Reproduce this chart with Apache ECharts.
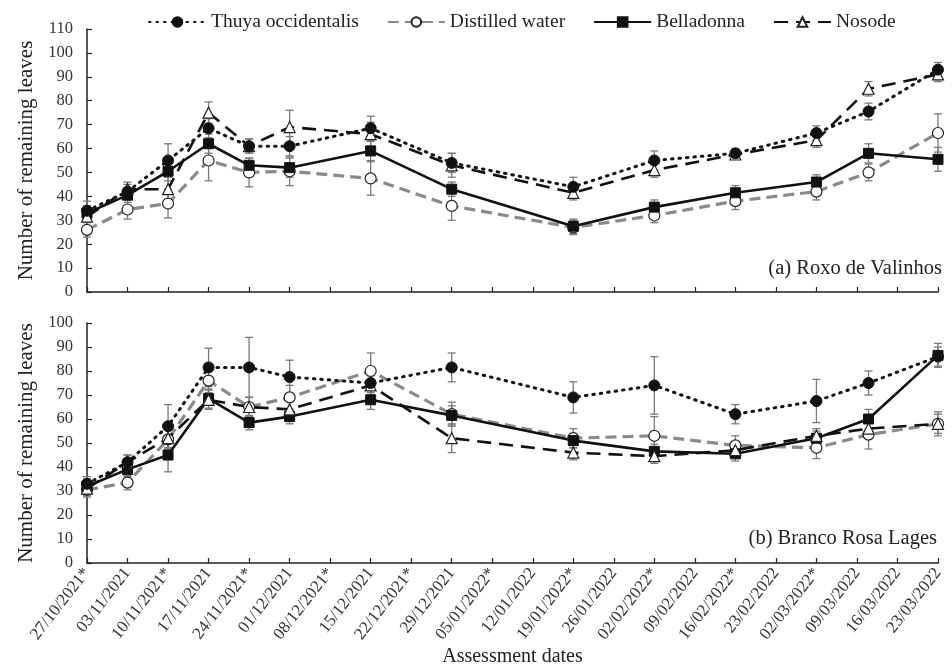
<!DOCTYPE html>
<html>
<head>
<meta charset="utf-8">
<script src="https://cdn.jsdelivr.net/npm/echarts@6/dist/echarts.min.js"></script>
<style>html,body{margin:0;padding:0;background:#fff}#c{width:952px;height:668px}</style>
</head>
<body>
<div id="c"></div>
<script>
const tickLabels = ["27/10/2021*","03/11/2021","10/11/2021*","17/11/2021","24/11/2021*","01/12/2021","08/12/2021*","15/12/2021","22/12/2021*","29/12/2021","05/01/2022*","12/01/2022","19/01/2022*","26/01/2022","02/02/2022*","09/02/2022","16/02/2022*","23/02/2022","02/03/2022*","09/03/2022","16/03/2022","23/03/2022"];
// days since 27/10/2021 of each assessment
const sampleDays = [0,7,14,21,28,35,49,63,84,98,112,126,135,147];
const seriesNames = ["Thuya occidentalis","Distilled water","Belladonna","Nosode"];

// Panel (a) Roxo de Valinhos
const thuyaA     = [34,42,55,68.5,61,61,68.5,54,44,55,58,66.5,75.5,93];
const thuyaAErr  = [4,3,7,4,3,4,5,4,4,4,2,3,3.5,3];
const waterA     = [26,34.5,37,55,50,50.5,47.5,36,27,32,38,42,50,66.5];
const waterAErr  = [3,4,6,8.5,6,6,7,6,3,3,3.5,3.5,3.5,8];
const bellaA     = [33,40.5,50.5,62,53,52,59,43,27.5,35.5,41.5,46,58,55.5];
const bellaAErr  = [3,3,4,4,3,4,4,3,3,3,3,3,4,5];
const nosodeA    = [31.5,43,43,75,61,69,66,53,41.5,51,57.5,63.5,85,91];
const nosodeAErr = [4,3,5,4.5,3,7,5,5,3,3,2,3,3,3];

// Panel (b) Branco Rosa Lages
const thuyaB     = [33,42,57,81.5,81.5,77.5,75,81.5,69,74,62,67.5,75,86];
const thuyaBErr  = [3,3,9,8,12.5,7,4,6,6.5,12,4,9,5,4];
const waterB     = [30.5,33.5,51.5,76,65,69,80,62,52,53,49,48,53.5,58];
const waterBErr  = [3,3,4,5,4,5,7.5,5,4,8,4,4.5,6,5];
const bellaB     = [32,39,45,68.5,58.5,61,68,61.5,51,46.5,45.5,52,60,86.5];
const bellaBErr  = [3,3,7,4,3,3,4,4,3,3,3,3,4,5];
const nosodeB    = [31,42,52,68,65,64,74,52,46,44.5,47,53,56,58];
const nosodeBErr = [3,3,4,4,4,4,4,6,3,3,3,3,4,4];

const FONT = "Liberation Serif";
const styles = [
  {line:{color:'#111',width:3,type:[1.5,6],cap:'round'}, symbol:'circle', size:11, item:{color:'#111',borderColor:'#111',borderWidth:1}},
  {line:{color:'#8a8a8a',width:3.2,type:[11,6]}, symbol:'circle', size:11, item:{color:'#fff',borderColor:'#222',borderWidth:1.2}},
  {line:{color:'#111',width:2.6,type:'solid'}, symbol:'rect', size:10, item:{color:'#111',borderColor:'#111',borderWidth:1}},
  {line:{color:'#111',width:2.6,type:[14,8]}, symbol:'triangle', size:11, item:{color:'#fff',borderColor:'#222',borderWidth:1.2}}
];

function pairs(vals){ return sampleDays.map((d,i)=>[d, vals[i]]); }
function errData(vals, errs){ return sampleDays.map((d,i)=>[d, vals[i]-errs[i], vals[i]+errs[i]]); }
function errRender(params, api){
  const x = api.value(0);
  const lo = api.coord([x, api.value(1)]);
  const hi = api.coord([x, api.value(2)]);
  const w = 4;
  const st = {stroke:'#7a7a7a', lineWidth:1.3};
  return {type:'group', children:[
    {type:'line', shape:{x1:lo[0],y1:lo[1],x2:hi[0],y2:hi[1]}, style:st},
    {type:'line', shape:{x1:lo[0]-w,y1:lo[1],x2:lo[0]+w,y2:lo[1]}, style:st},
    {type:'line', shape:{x1:hi[0]-w,y1:hi[1],x2:hi[0]+w,y2:hi[1]}, style:st}
  ]};
}

const panels = [
  [[thuyaA,thuyaAErr],[waterA,waterAErr],[bellaA,bellaAErr],[nosodeA,nosodeAErr]],
  [[thuyaB,thuyaBErr],[waterB,waterBErr],[bellaB,bellaBErr],[nosodeB,nosodeBErr]]
];

const series = [];
panels.forEach((panel, p) => {
  panel.forEach(([vals, errs], k) => {
    series.push({
      type:'custom', name: seriesNames[k]+' err', xAxisIndex:p, yAxisIndex:p,
      renderItem: errRender, data: errData(vals, errs), z:1, silent:true
    });
  });
  panel.forEach(([vals, errs], k) => {
    const s = styles[k];
    series.push({
      type:'line', name: seriesNames[k], xAxisIndex:p, yAxisIndex:p,
      data: pairs(vals), symbol:s.symbol, symbolSize:s.size,
      lineStyle: s.line, itemStyle: s.item, z: 3 + (k===0?1:0), animation:false
    });
  });
});

function xAxis(grid, showLabels){
  return {
    type:'value', gridIndex:grid, min:0, max:147, interval:7,
    axisLine:{lineStyle:{color:'#222',width:1.5}},
    axisTick:{inside:true,length:5,lineStyle:{color:'#222',width:1.2}},
    splitLine:{show:false},
    axisLabel:{show:showLabels, rotate:52, margin:7, color:'#333', fontFamily:FONT, fontSize:17,
      formatter: v => tickLabels[Math.round(v/7)] || ''},
    name: showLabels ? 'Assessment dates' : '',
    nameLocation:'middle', nameGap:84,
    nameTextStyle:{fontFamily:FONT, fontSize:20, color:'#222'}
  };
}
function yAxis(grid, max){
  return {
    type:'value', gridIndex:grid, min:0, max:max, interval:10,
    axisLine:{show:true, lineStyle:{color:'#222',width:1.5}},
    axisTick:{show:true, inside:true,length:5,lineStyle:{color:'#222',width:1.2}},
    splitLine:{show:false},
    axisLabel:{color:'#333', fontFamily:FONT, fontSize:16.5, margin:14},
    name:'Number of remaining leaves', nameLocation:'middle', nameGap:49,
    nameTextStyle:{fontFamily:FONT, fontSize:21, color:'#222'}
  };
}

const chart = echarts.init(document.getElementById('c'), null, {renderer:'canvas'});
chart.setOption({
  animation:false,
  backgroundColor:'#fff',
  legend:{
    data: seriesNames, top:7, left:143, itemWidth:57, itemHeight:12, itemGap:28,
    textStyle:{fontFamily:FONT, fontSize:19.5, color:'#222'}
  },
  grid:[
    {left:87, right:14, top:29, height:263},
    {left:87, right:14, top:323, height:242}
  ],
  xAxis:[xAxis(0,false), xAxis(1,true)],
  yAxis:[yAxis(0,110), yAxis(1,100)],
  graphic:[
    {type:'text', right:10, top:258, style:{text:'(a) Roxo de Valinhos', font:'20.5px "Liberation Serif"', fill:'#222'}},
    {type:'text', right:15, top:528, style:{text:'(b) Branco Rosa Lages', font:'20.5px "Liberation Serif"', fill:'#222'}}
  ],
  series: series
});
</script>
</body>
</html>
